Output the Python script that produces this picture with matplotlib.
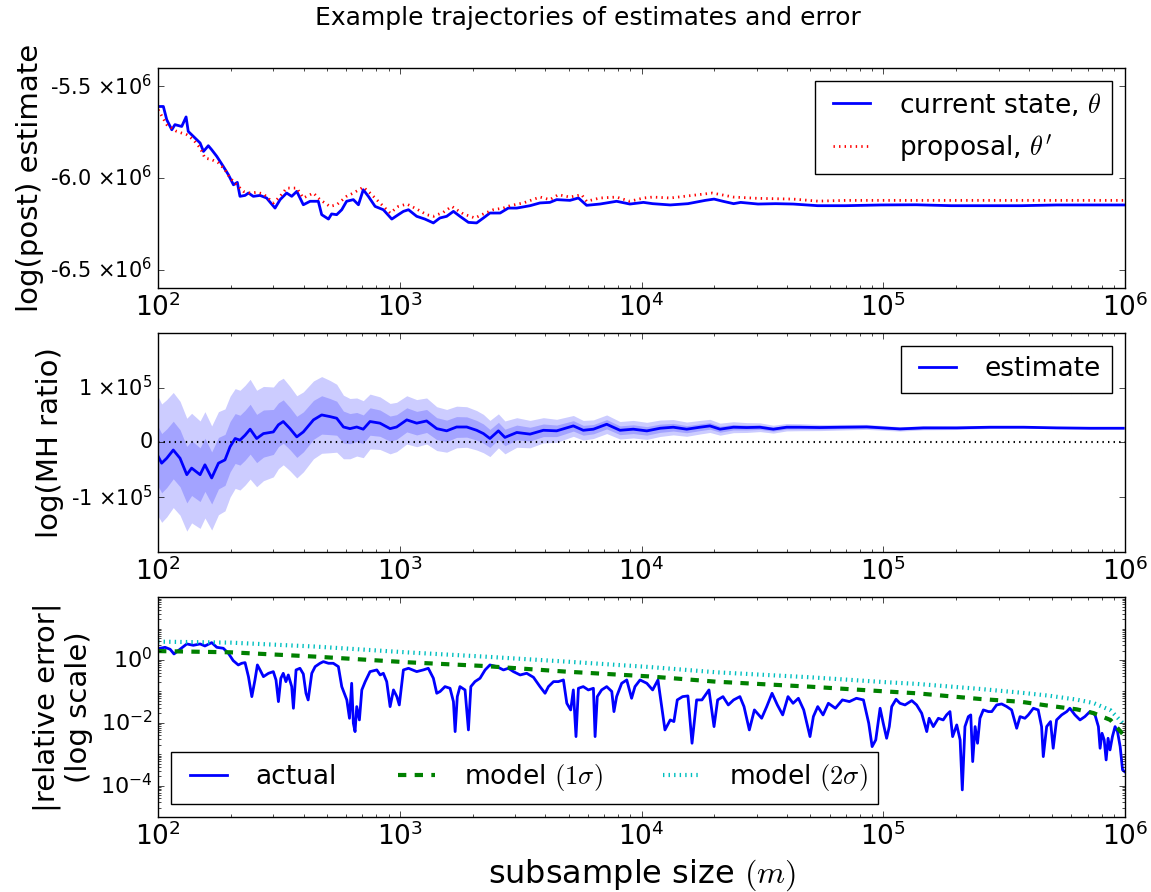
import numpy as np
import matplotlib
matplotlib.use("Agg")
import matplotlib.pyplot as plt
from matplotlib.ticker import FixedLocator, FuncFormatter, LogLocator, NullFormatter

plt.style.use("classic")
plt.rcParams["font.family"] = ["DejaVu Sans"]
plt.rcParams["mathtext.fontset"] = "cm"

# ---- log posterior estimates (units of 1e6) vs log10 subsample size ----
current_log_m = [
    2.001, 2.022, 2.036, 2.057, 2.070, 2.098, 2.116, 2.125, 2.153, 2.174,
    2.188, 2.208, 2.222, 2.243, 2.270, 2.291, 2.312, 2.328, 2.339, 2.360,
    2.374, 2.394, 2.422, 2.449, 2.484, 2.505, 2.532, 2.553, 2.574, 2.601,
    2.629, 2.663, 2.677, 2.705, 2.718, 2.739, 2.760, 2.780, 2.808, 2.829,
    2.849, 2.870, 2.898, 2.932, 2.967, 2.994, 3.015, 3.036, 3.070, 3.104,
    3.139, 3.166, 3.194, 3.222, 3.249, 3.284, 3.318, 3.346, 3.373, 3.415,
    3.449, 3.484, 3.539, 3.580, 3.621, 3.649, 3.704, 3.739, 3.773, 3.828,
    3.897, 3.952, 4.008, 4.046, 4.119, 4.192, 4.264, 4.300, 4.337, 4.381,
    4.410, 4.482, 4.555, 4.627, 4.729, 4.845, 4.991, 5.136, 5.281, 5.426,
    5.571, 5.717, 5.862, 6.000]
current_state = [
    -5.610, -5.610, -5.682, -5.737, -5.709, -5.719, -5.667, -5.746, -5.782, -5.809,
    -5.855, -5.824, -5.846, -5.882, -5.937, -5.982, -6.037, -6.024, -6.100, -6.095,
    -6.082, -6.100, -6.095, -6.109, -6.164, -6.118, -6.082, -6.100, -6.073, -6.146,
    -6.127, -6.127, -6.200, -6.224, -6.196, -6.200, -6.173, -6.127, -6.118, -6.146,
    -6.064, -6.100, -6.155, -6.173, -6.224, -6.200, -6.182, -6.173, -6.209, -6.224,
    -6.245, -6.218, -6.209, -6.182, -6.209, -6.242, -6.245, -6.218, -6.191, -6.191,
    -6.164, -6.164, -6.151, -6.136, -6.133, -6.118, -6.122, -6.109, -6.149, -6.142,
    -6.127, -6.142, -6.133, -6.140, -6.147, -6.140, -6.122, -6.115, -6.127, -6.140,
    -6.133, -6.142, -6.140, -6.142, -6.151, -6.151, -6.147, -6.146, -6.151, -6.151,
    -6.151, -6.147, -6.147, -6.147]

proposal_log_m = [
    2.001, 2.036, 2.077, 2.119, 2.146, 2.174, 2.194, 2.222, 2.250, 2.277,
    2.298, 2.325, 2.353, 2.381, 2.408, 2.436, 2.477, 2.505, 2.532, 2.574,
    2.601, 2.643, 2.670, 2.711, 2.739, 2.780, 2.808, 2.849, 2.877, 2.918,
    2.960, 2.994, 3.029, 3.070, 3.111, 3.139, 3.180, 3.215, 3.263, 3.311,
    3.346, 3.387, 3.428, 3.456, 3.511, 3.580, 3.621, 3.656, 3.704, 3.752,
    3.773, 3.828, 3.897, 3.952, 4.008, 4.046, 4.119, 4.235, 4.293, 4.381,
    4.482, 4.627, 4.729, 4.845, 5.136, 5.426, 5.717, 6.000]
proposal = [
    -5.628, -5.709, -5.746, -5.764, -5.791, -5.836, -5.891, -5.900, -5.918, -5.955,
    -6.000, -6.036, -6.073, -6.082, -6.078, -6.087, -6.136, -6.100, -6.055, -6.055,
    -6.109, -6.082, -6.118, -6.155, -6.146, -6.100, -6.082, -6.050, -6.082, -6.136,
    -6.191, -6.155, -6.142, -6.169, -6.200, -6.209, -6.187, -6.155, -6.196, -6.218,
    -6.196, -6.173, -6.164, -6.151, -6.136, -6.104, -6.118, -6.091, -6.104, -6.091,
    -6.127, -6.109, -6.104, -6.127, -6.109, -6.104, -6.109, -6.091, -6.082, -6.104,
    -6.111, -6.115, -6.126, -6.122, -6.122, -6.122, -6.122, -6.122]

# ---- log MH ratio estimate (units of 1e5) and its standard deviation ----
ratio_log_m = [
    2.001, 2.015, 2.036, 2.063, 2.091, 2.119, 2.139, 2.174, 2.194, 2.222,
    2.250, 2.277, 2.298, 2.319, 2.339, 2.360, 2.381, 2.408, 2.436, 2.477,
    2.498, 2.518, 2.546, 2.574, 2.601, 2.643, 2.677, 2.711, 2.739, 2.767,
    2.794, 2.822, 2.849, 2.877, 2.918, 2.960, 2.987, 3.029, 3.070, 3.111,
    3.153, 3.194, 3.235, 3.277, 3.318, 3.346, 3.373, 3.408, 3.435, 3.484,
    3.539, 3.594, 3.649, 3.718, 3.759, 3.801, 3.856, 3.911, 3.966, 4.022,
    4.077, 4.131, 4.187, 4.242, 4.283, 4.325, 4.380, 4.435, 4.490, 4.545,
    4.600, 4.656, 4.738, 4.821, 4.931, 5.069, 5.166, 5.304, 5.442, 5.580,
    5.717, 5.855, 5.993]
ratio_estimate = [
    -0.26, -0.38, -0.29, -0.14, -0.29, -0.59, -0.47, -0.59, -0.41, -0.65,
    -0.38, -0.32, -0.08, 0.07, 0.04, 0.13, 0.24, 0.07, 0.16, 0.19,
    0.32, 0.38, 0.25, 0.10, 0.19, 0.41, 0.50, 0.47, 0.44, 0.28,
    0.25, 0.28, 0.24, 0.38, 0.35, 0.25, 0.28, 0.41, 0.35, 0.39,
    0.25, 0.21, 0.28, 0.28, 0.22, 0.16, 0.07, 0.21, 0.09, 0.18,
    0.15, 0.22, 0.21, 0.30, 0.22, 0.24, 0.33, 0.22, 0.24, 0.209,
    0.257, 0.276, 0.24, 0.276, 0.30, 0.24, 0.276, 0.27, 0.276, 0.24,
    0.276, 0.276, 0.27, 0.276, 0.282, 0.245, 0.264, 0.264, 0.276, 0.276,
    0.264, 0.257, 0.257]
ratio_sigma = [
    0.545, 0.54, 0.535, 0.525, 0.52, 0.515, 0.50, 0.49, 0.485, 0.475,
    0.47, 0.465, 0.46, 0.455, 0.455, 0.455, 0.455, 0.44, 0.43, 0.41,
    0.40, 0.395, 0.385, 0.375, 0.365, 0.355, 0.35, 0.33, 0.31, 0.29,
    0.275, 0.265, 0.26, 0.25, 0.24, 0.23, 0.225, 0.22, 0.215, 0.21,
    0.20, 0.195, 0.19, 0.185, 0.18, 0.175, 0.165, 0.155, 0.15, 0.135,
    0.125, 0.115, 0.105, 0.095, 0.09, 0.085, 0.085, 0.08, 0.08, 0.078,
    0.075, 0.07, 0.065, 0.062, 0.06, 0.055, 0.05, 0.045, 0.04, 0.036,
    0.034, 0.032, 0.028, 0.026, 0.023, 0.02, 0.018, 0.015, 0.012, 0.01,
    0.008, 0.005, 0.0]

# ---- |relative error| (log10) ----
actual_log_m = [
    2.008, 2.029, 2.050, 2.066, 2.091, 2.119, 2.146, 2.174, 2.194, 2.222,
    2.243, 2.270, 2.291, 2.311, 2.332, 2.346, 2.360, 2.374, 2.381, 2.388,
    2.401, 2.411, 2.422, 2.436, 2.457, 2.477, 2.488, 2.498, 2.508, 2.518,
    2.529, 2.539, 2.553, 2.560, 2.571, 2.587, 2.601, 2.612, 2.621, 2.636,
    2.650, 2.670, 2.684, 2.705, 2.725, 2.746, 2.760, 2.781, 2.792, 2.801,
    2.808, 2.815, 2.822, 2.833, 2.843, 2.857, 2.877, 2.905, 2.919, 2.932,
    2.946, 2.960, 2.974, 2.988, 2.998, 3.015, 3.036, 3.070, 3.097, 3.118,
    3.139, 3.153, 3.167, 3.187, 3.208, 3.222, 3.229, 3.238, 3.249, 3.270,
    3.284, 3.294, 3.311, 3.332, 3.353, 3.373, 3.401, 3.429, 3.449, 3.470,
    3.498, 3.525, 3.553, 3.580, 3.601, 3.615, 3.636, 3.656, 3.677, 3.691,
    3.707, 3.718, 3.729, 3.739, 3.759, 3.780, 3.801, 3.808, 3.817, 3.835,
    3.856, 3.877, 3.886, 3.897, 3.918, 3.939, 3.959, 3.973, 3.994, 4.022,
    4.046, 4.068, 4.097, 4.119, 4.134, 4.148, 4.170, 4.192, 4.209, 4.228,
    4.250, 4.279, 4.300, 4.315, 4.337, 4.359, 4.381, 4.407, 4.424, 4.446,
    4.467, 4.497, 4.518, 4.540, 4.562, 4.584, 4.606, 4.627, 4.649, 4.671,
    4.697, 4.711, 4.729, 4.751, 4.773, 4.802, 4.831, 4.860, 4.889, 4.918,
    4.940, 4.954, 4.969, 4.987, 5.000, 5.014, 5.025, 5.035, 5.053, 5.069,
    5.090, 5.118, 5.138, 5.159, 5.180, 5.190, 5.207, 5.228, 5.248, 5.262,
    5.276, 5.287, 5.304, 5.318, 5.327, 5.338, 5.352, 5.362, 5.370, 5.380,
    5.390, 5.400, 5.414, 5.435, 5.449, 5.469, 5.490, 5.511, 5.531, 5.552,
    5.566, 5.586, 5.600, 5.621, 5.641, 5.655, 5.662, 5.676, 5.692, 5.703,
    5.717, 5.738, 5.759, 5.772, 5.793, 5.814, 5.834, 5.855, 5.876, 5.890,
    5.897, 5.905, 5.914, 5.922, 5.930, 5.938, 5.948, 5.959, 5.969, 5.980,
    5.990, 5.998]
actual_log_err = [
    0.375, 0.406, 0.343, 0.194, 0.343, 0.513, 0.470, 0.513, 0.449, 0.555,
    0.406, 0.375, 0.215, -0.018, -0.156, -0.103, -0.082, -0.528, -0.846, -1.165,
    -0.634, -0.156, -0.315, -0.528, -0.422, -0.369, -0.634, -1.324, -0.581, -0.422,
    -0.687, -0.475, -0.846, -1.536, -0.315, -0.262, -0.443, -1.058, -1.271, -0.422,
    -0.209, -0.103, -0.050, -0.103, -0.103, -0.209, -0.846, -1.271, -1.855, -0.740,
    -2.014, -2.280, -1.483, -1.908, -0.952, -0.687, -0.369, -0.315, -0.475, -0.422,
    -0.687, -1.483, -0.952, -1.165, -1.430, -0.315, -0.262, -0.368, -0.315, -0.262,
    -0.580, -1.058, -1.000, -0.846, -0.900, -1.324, -2.279, -1.165, -0.846, -0.952,
    -2.226, -0.846, -0.687, -0.580, -0.315, -0.156, -0.209, -0.315, -0.262, -0.368,
    -0.475, -0.421, -0.549, -0.846, -1.058, -0.846, -0.687, -0.687, -0.634, -1.377,
    -1.589, -0.952, -2.438, -0.900, -0.846, -0.952, -0.900, -2.438, -1.165, -0.952,
    -0.846, -1.000, -1.642, -1.165, -0.740, -0.634, -1.218, -0.846, -0.634, -0.740,
    -0.952, -0.634, -2.226, -1.907, -1.960, -1.270, -1.165, -1.143, -2.650, -1.270,
    -1.270, -0.952, -2.120, -1.270, -1.165, -1.430, -1.270, -1.165, -1.483, -2.226,
    -1.589, -1.854, -1.483, -1.058, -1.430, -1.748, -1.165, -1.377, -1.218, -1.589,
    -2.438, -1.800, -1.483, -1.748, -1.377, -1.536, -1.270, -1.324, -1.218, -1.270,
    -2.014, -2.757, -2.544, -1.536, -2.014, -2.492, -2.120, -1.483, -1.250, -1.377,
    -1.430, -1.292, -1.430, -1.695, -2.279, -1.855, -2.120, -1.855, -1.908, -1.748,
    -1.642, -2.439, -2.067, -2.545, -4.137, -2.120, -1.802, -1.748, -3.235, -2.120,
    -2.651, -1.855, -1.589, -1.642, -1.642, -1.430, -1.398, -1.483, -1.589, -2.173,
    -1.802, -1.855, -1.748, -1.536, -1.589, -2.120, -3.076, -2.120, -1.960, -2.810,
    -1.908, -1.748, -1.642, -1.536, -1.748, -1.908, -1.802, -1.642, -1.748, -2.120,
    -2.810, -2.333, -2.545, -3.182, -2.492, -2.863, -2.439, -2.120, -2.279, -2.757,
    -3.500, -3.553]

model_log_m = [2.0, 2.3, 2.65, 3.03, 3.35, 3.69, 4.03, 4.31, 4.70, 5.01,
               5.14, 5.40, 5.57, 5.68, 5.80, 5.87, 5.94, 5.99]
model_1sigma_log = [0.286, 0.247, 0.11, -0.07, -0.19, -0.37, -0.52, -0.69, -0.85, -1.0,
                    -1.06, -1.24, -1.33, -1.45, -1.57, -1.69, -1.91, -2.35]
model_2sigma_log = [0.587, 0.555, 0.43, 0.245, 0.11, -0.05, -0.22, -0.39, -0.55, -0.705,
                    -0.76, -0.92, -1.04, -1.13, -1.26, -1.37, -1.6, -2.0]


def sci_label(power):
    def fmt(v, pos):
        if v == 0:
            return "0"
        mant = v / 10 ** power
        txt = "%d" % round(mant) if power == 5 else "%.1f" % mant
        return txt + r" $\mathdefault{\times10^{%d}}$" % power
    return fmt


fig = plt.figure(figsize=(11.51, 8.92), dpi=100)
ax1 = fig.add_axes([0.1373, 0.6771, 0.8401, 0.2467])
ax2 = fig.add_axes([0.1373, 0.3812, 0.8401, 0.2458])
ax3 = fig.add_axes([0.1373, 0.0841, 0.8401, 0.2463])

# top: log posterior for current state and proposal
ax1.plot(10 ** np.array(current_log_m), np.array(current_state) * 1e6, "b-", lw=2,
         label=r"current state, $\theta$")
ax1.plot(10 ** np.array(proposal_log_m), np.array(proposal) * 1e6, "r:", lw=2,
         label=r"proposal, $\theta'$")
ax1.set_ylim(-6.6e6, -5.4e6)
ax1.yaxis.set_major_locator(FixedLocator([-6.5e6, -6.0e6, -5.5e6]))
ax1.yaxis.set_major_formatter(FuncFormatter(sci_label(6)))
ax1.set_ylabel("log(post) estimate", fontsize=21)
ax1.legend(loc="upper right", fontsize=19)

# middle: log MH ratio with 1 and 2 sigma bands
rm = 10 ** np.array(ratio_log_m)
est = np.array(ratio_estimate) * 1e5
sd = np.array(ratio_sigma) * 1e5
ax2.fill_between(rm, est - 2 * sd, est + 2 * sd, color="b", alpha=0.2, lw=0)
ax2.fill_between(rm, est - sd, est + sd, color="b", alpha=0.2, lw=0)
ax2.plot(rm, est, "b-", lw=2, label="estimate")
ax2.axhline(0, color="k", ls=":", lw=1.5)
ax2.set_ylim(-2e5, 2e5)
ax2.yaxis.set_major_locator(FixedLocator([-1e5, 0, 1e5]))
ax2.yaxis.set_major_formatter(FuncFormatter(sci_label(5)))
ax2.set_ylabel("log(MH ratio)", fontsize=21)
ax2.legend(loc="upper right", fontsize=19)

# bottom: relative error against the model
ax3.plot(10 ** np.array(actual_log_m), 10 ** np.array(actual_log_err), "b-", lw=2,
         label="actual")
ax3.plot(10 ** np.array(model_log_m), 10 ** np.array(model_1sigma_log), "g--", lw=3,
         label=r"model $(1\sigma)$")
ax3.plot(10 ** np.array(model_log_m), 10 ** np.array(model_2sigma_log), "c:", lw=3,
         label=r"model $(2\sigma)$")
ax3.set_yscale("log")
ax3.set_ylim(1e-5, 1e2)
ax3.yaxis.set_major_locator(FixedLocator([1e-4, 1e-2, 1e0]))
ax3.yaxis.set_minor_locator(LogLocator(base=10, subs=np.arange(1, 10), numticks=30))
ax3.yaxis.set_minor_formatter(NullFormatter())
ax3.set_ylabel("|relative error|\n(log scale)", fontsize=21)
ax3.set_xlabel(r"subsample size $(m)$", fontsize=23)
ax3.legend(loc="lower left", ncol=3, fontsize=19)

for ax, ysize in ((ax1, 15), (ax2, 15), (ax3, 16)):
    ax.set_xscale("log")
    ax.set_xlim(1e2, 1e6)
    ax.tick_params(axis="x", labelsize=19)
    ax.tick_params(axis="y", labelsize=ysize)

fig.text(0.511, 0.98, "Example trajectories of estimates and error", ha="center",
         va="center", fontsize=18)

fig.savefig("out.png", dpi=100)
